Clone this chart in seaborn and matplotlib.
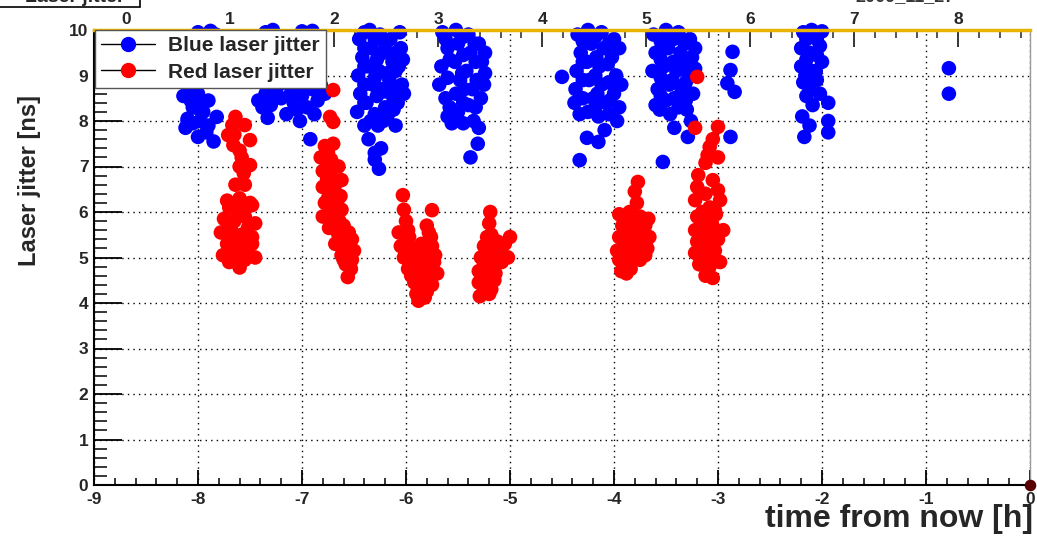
import matplotlib
matplotlib.use("Agg")
import matplotlib.pyplot as plt
import seaborn as sns
import pandas as pd
from matplotlib.ticker import MultipleLocator
from matplotlib.lines import Line2D
from matplotlib.patches import Rectangle

# ---- data (time from now [h], jitter [ns]) ----
blue_points = [
    # cluster near -8
    (-8.12, 7.85), (-8.10, 8.05), (-8.05, 8.30), (-8.14, 8.55), (-8.08, 8.75), (-8.00, 8.60),
    (-7.95, 8.20), (-7.92, 7.75), (-7.85, 7.55), (-8.00, 7.65), (-7.98, 8.00), (-7.90, 8.45),
    (-8.02, 8.85), (-8.00, 9.95), (-7.88, 9.98), (-7.83, 9.90), (-7.82, 8.09), (-7.98, 8.24),
    (-8.07, 8.45), (-8.10, 8.00), (-7.96, 8.40), (-8.05, 7.95), (-7.90, 7.90),
    # near -7.3
    (-7.42, 8.45), (-7.35, 8.60), (-7.28, 8.70), (-7.30, 8.35), (-7.33, 8.07), (-7.20, 8.50),
    (-7.22, 8.80), (-7.35, 9.95), (-7.28, 10.0), (-7.25, 8.60), (-7.38, 8.30),
    # near -7
    (-7.15, 8.15), (-7.08, 8.40), (-7.00, 8.55), (-6.95, 8.30), (-6.90, 8.70), (-6.85, 8.45),
    (-6.82, 8.80), (-7.02, 8.00), (-6.92, 7.60), (-6.78, 8.60), (-7.10, 8.70), (-7.00, 9.97),
    (-6.90, 9.98), (-7.12, 8.55), (-7.05, 8.25), (-6.88, 8.15), (-6.97, 8.75),
    # near -6.25
    (-6.45, 9.80), (-6.42, 9.40), (-6.46, 9.00), (-6.44, 8.60), (-6.47, 8.20), (-6.40, 7.90),
    (-6.35, 10.0), (-6.33, 9.60), (-6.36, 9.20), (-6.32, 8.80), (-6.38, 8.40), (-6.34, 8.00),
    (-6.36, 7.60), (-6.30, 7.30), (-6.25, 9.90), (-6.22, 9.50), (-6.26, 9.10), (-6.24, 8.70),
    (-6.20, 8.30), (-6.27, 7.90), (-6.24, 7.40), (-6.26, 6.95), (-6.30, 7.15), (-6.15, 9.80),
    (-6.13, 9.30), (-6.16, 8.90), (-6.12, 8.50), (-6.18, 8.10), (-6.06, 9.95), (-6.05, 9.60),
    (-6.07, 9.20), (-6.04, 8.80), (-6.08, 8.40), (-6.10, 7.90),
    (-6.40, 9.95), (-6.40, 9.60), (-6.40, 9.20), (-6.40, 8.80), (-6.40, 8.40), (-6.30, 9.80),
    (-6.28, 9.35), (-6.30, 8.95), (-6.28, 8.55), (-6.30, 8.15), (-6.20, 9.70), (-6.18, 9.05),
    (-6.20, 8.65), (-6.22, 8.00), (-6.10, 9.50), (-6.10, 9.10), (-6.10, 8.65), (-6.12, 8.25),
    (-6.03, 9.35), (-6.02, 8.60),
    # near -5.45
    (-5.65, 9.95), (-5.60, 9.60), (-5.66, 9.20), (-5.68, 8.80), (-5.62, 8.50), (-5.60, 8.10),
    (-5.52, 10.0), (-5.50, 9.70), (-5.53, 9.30), (-5.48, 8.90), (-5.52, 8.60), (-5.50, 8.20),
    (-5.45, 7.95), (-5.40, 9.90), (-5.38, 9.50), (-5.42, 9.10), (-5.36, 8.70), (-5.40, 8.35),
    (-5.35, 8.00), (-5.30, 9.70), (-5.27, 9.30), (-5.25, 8.80), (-5.28, 8.50), (-5.31, 7.50),
    (-5.38, 7.20), (-5.30, 7.85),
    (-5.62, 9.80), (-5.58, 9.35), (-5.60, 8.95), (-5.58, 8.30), (-5.45, 9.85), (-5.45, 9.45),
    (-5.46, 9.05), (-5.44, 8.70), (-5.45, 8.40), (-5.34, 9.70), (-5.33, 9.30), (-5.32, 8.90),
    (-5.33, 8.30), (-5.24, 9.50), (-5.24, 9.05), (-5.56, 7.95),
    # near -4.2
    (-4.50, 8.97), (-4.26, 7.63), (-4.09, 7.80), (-4.15, 7.54), (-4.33, 7.14),
    (-4.35, 9.90), (-4.32, 9.50), (-4.36, 9.10), (-4.37, 8.70), (-4.38, 8.40), (-4.33, 8.15),
    (-4.25, 10.0), (-4.22, 9.70), (-4.26, 9.30), (-4.24, 8.90), (-4.20, 8.50), (-4.25, 8.20),
    (-4.12, 9.95), (-4.10, 9.60), (-4.14, 9.20), (-4.12, 8.80), (-4.08, 8.40), (-4.15, 8.10),
    (-4.00, 9.80), (-4.02, 9.40), (-3.98, 9.00), (-4.00, 8.60), (-3.95, 8.30), (-3.97, 8.00),
    (-4.30, 9.75), (-4.30, 9.30), (-4.30, 8.90), (-4.30, 8.50), (-4.18, 9.85), (-4.17, 9.40),
    (-4.18, 9.00), (-4.16, 8.60), (-4.18, 8.30), (-4.05, 9.70), (-4.06, 9.25), (-4.05, 8.85),
    (-4.04, 8.45), (-4.05, 8.15), (-3.95, 9.60), (-3.93, 8.80),
    # near -3.45
    (-3.62, 9.90), (-3.60, 9.50), (-3.63, 9.10), (-3.58, 8.70), (-3.60, 8.35),
    (-3.50, 10.0), (-3.48, 9.60), (-3.52, 9.20), (-3.47, 8.80), (-3.50, 8.45), (-3.46, 8.15),
    (-3.38, 9.95), (-3.36, 9.50), (-3.40, 9.10), (-3.35, 8.70), (-3.38, 8.30), (-3.42, 7.85),
    (-3.27, 9.80), (-3.25, 9.40), (-3.28, 9.00), (-3.24, 8.60), (-3.30, 8.25), (-3.29, 7.65),
    (-3.53, 7.10),
    (-3.55, 9.75), (-3.55, 9.35), (-3.55, 8.95), (-3.55, 8.55), (-3.43, 9.80), (-3.43, 9.30),
    (-3.44, 8.90), (-3.42, 8.50), (-3.32, 9.70), (-3.32, 9.25), (-3.31, 8.85), (-3.31, 8.45),
    (-3.22, 9.60), (-3.22, 9.15), (-3.56, 8.25), (-3.26, 8.00),
    # near -2.85
    (-2.86, 9.52), (-2.88, 9.12), (-2.91, 8.83), (-2.84, 8.64), (-2.88, 7.65),
    # near -2.1
    (-2.18, 9.95), (-2.10, 10.0), (-2.00, 9.97), (-2.20, 9.60), (-2.12, 9.50), (-2.02, 9.65),
    (-2.20, 9.20), (-2.10, 9.10), (-2.00, 9.30), (-2.18, 8.85), (-2.05, 8.90), (-2.12, 8.70),
    (-2.09, 8.35), (-1.94, 8.40), (-2.19, 8.10), (-1.94, 8.00), (-2.17, 7.65), (-1.94, 7.75),
    (-2.12, 7.90), (-2.15, 9.80), (-2.05, 9.80), (-2.15, 9.35), (-2.05, 9.45), (-2.16, 9.00),
    (-2.06, 9.10), (-2.02, 8.60), (-2.15, 8.55),
    # near -0.8
    (-0.78, 9.16), (-0.78, 8.60),
]

red_points = [
    # near -7.6
    (-7.64, 8.09), (-7.67, 7.91), (-7.55, 7.91), (-7.71, 7.69), (-7.50, 7.58), (-7.66, 7.47),
    (-7.58, 7.20), (-7.60, 7.00), (-7.50, 7.03), (-7.64, 6.60), (-7.55, 6.60),
    (-7.72, 6.25), (-7.60, 6.30), (-7.50, 6.20), (-7.70, 6.10), (-7.58, 6.05), (-7.48, 6.15),
    (-7.75, 5.85), (-7.65, 5.80), (-7.55, 5.90), (-7.45, 5.75), (-7.78, 5.55), (-7.68, 5.60),
    (-7.58, 5.50), (-7.48, 5.45), (-7.72, 5.30), (-7.62, 5.25), (-7.52, 5.20), (-7.76, 5.05),
    (-7.65, 5.00), (-7.55, 5.08), (-7.45, 5.00), (-7.70, 4.90), (-7.60, 4.78),
    (-7.70, 5.70), (-7.62, 5.40), (-7.52, 5.65), (-7.66, 5.15), (-7.54, 5.35), (-7.62, 5.95),
    (-7.70, 5.45), (-7.60, 6.20), (-7.48, 5.30), (-7.55, 4.95), (-7.65, 7.70), (-7.60, 7.35),
    (-7.56, 6.85),
    # near -6.65
    (-6.70, 8.68), (-6.73, 8.09), (-6.70, 7.98),
    (-6.78, 7.45), (-6.70, 7.50), (-6.82, 7.20), (-6.72, 7.15), (-6.65, 7.00), (-6.80, 6.90),
    (-6.72, 6.80), (-6.62, 6.70), (-6.80, 6.55), (-6.72, 6.45), (-6.63, 6.35), (-6.78, 6.20),
    (-6.70, 6.10), (-6.62, 6.05), (-6.80, 5.90), (-6.68, 5.85), (-6.60, 5.70), (-6.74, 5.65),
    (-6.65, 5.50), (-6.55, 5.55), (-6.68, 5.30), (-6.58, 5.25), (-6.52, 5.40), (-6.62, 5.05),
    (-6.55, 5.00), (-6.50, 5.15), (-6.58, 4.85), (-6.53, 4.75), (-6.56, 4.57),
    (-6.75, 7.30), (-6.76, 7.00), (-6.68, 6.60), (-6.75, 6.30), (-6.66, 6.25), (-6.72, 5.95),
    (-6.64, 5.80), (-6.60, 5.40), (-6.56, 5.20), (-6.60, 4.95), (-6.52, 4.95), (-6.70, 5.70),
    (-6.76, 6.70),
    # near -5.9
    (-6.03, 6.37), (-6.02, 6.05), (-6.00, 5.80), (-6.07, 5.55), (-5.97, 5.45), (-5.75, 6.04),
    (-5.80, 5.70), (-5.76, 5.45), (-6.05, 5.25), (-5.95, 5.20), (-5.85, 5.30), (-5.75, 5.25),
    (-6.02, 5.00), (-5.92, 4.95), (-5.82, 5.00), (-5.73, 4.90), (-5.98, 4.75), (-5.88, 4.70),
    (-5.78, 4.60), (-5.70, 4.65), (-5.92, 4.45), (-5.82, 4.35), (-5.75, 4.40), (-5.90, 4.20),
    (-5.82, 4.12), (-5.88, 4.05),
    (-5.98, 5.60), (-6.00, 5.10), (-5.90, 5.10), (-5.80, 5.15), (-5.95, 4.85), (-5.85, 4.85),
    (-5.75, 4.75), (-5.85, 4.55), (-5.80, 4.25), (-5.95, 4.60), (-5.78, 5.55), (-5.72, 5.05),
    # near -5.15
    (-5.19, 6.00), (-5.20, 5.75), (-5.18, 5.50), (-5.00, 5.45), (-5.05, 5.30), (-5.25, 5.25),
    (-5.15, 5.20), (-5.08, 5.10), (-5.28, 5.00), (-5.20, 4.95), (-5.12, 4.90), (-5.02, 5.00),
    (-5.30, 4.70), (-5.22, 4.75), (-5.14, 4.65), (-5.30, 4.45), (-5.22, 4.40), (-5.15, 4.50),
    (-5.29, 4.15), (-5.20, 4.20),
    (-5.22, 5.10), (-5.12, 5.05), (-5.25, 4.85), (-5.16, 4.80), (-5.26, 4.55), (-5.18, 4.30),
    (-5.08, 4.90), (-5.12, 5.35), (-5.22, 5.45), (-5.25, 4.30),
    # near -3.8
    (-3.77, 6.66), (-3.80, 6.45), (-3.95, 5.95), (-3.85, 6.00), (-3.75, 5.90), (-3.67, 5.85),
    (-3.92, 5.70), (-3.82, 5.75), (-3.72, 5.60), (-3.95, 5.45), (-3.85, 5.40), (-3.75, 5.35),
    (-3.66, 5.45), (-3.97, 5.15), (-3.87, 5.20), (-3.77, 5.10), (-3.68, 5.20), (-3.95, 4.95),
    (-3.85, 4.90), (-3.75, 4.95), (-3.93, 4.70), (-3.88, 4.65),
    (-3.90, 5.85), (-3.80, 5.85), (-3.70, 5.70), (-3.88, 5.55), (-3.78, 5.50), (-3.90, 5.30),
    (-3.80, 5.30), (-3.70, 5.30), (-3.90, 5.05), (-3.80, 5.00), (-3.70, 5.05), (-3.84, 4.75),
    (-3.78, 6.20),
    # near -3.1
    (-3.20, 8.97), (-3.22, 7.85), (-3.00, 7.87), (-3.08, 7.43), (-3.00, 7.20), (-3.12, 7.08),
    (-3.19, 6.81), (-3.20, 6.55), (-3.00, 6.48), (-3.22, 6.26), (-2.98, 6.26), (-3.03, 6.04),
    (-3.20, 5.90), (-3.10, 5.85), (-3.02, 5.95), (-3.22, 5.60), (-3.12, 5.65), (-3.03, 5.55),
    (-2.95, 5.60), (-3.20, 5.35), (-3.10, 5.30), (-3.00, 5.40), (-3.22, 5.10), (-3.12, 5.05),
    (-3.03, 5.15), (-3.18, 4.85), (-3.08, 4.80), (-2.98, 4.90), (-3.12, 4.60), (-3.05, 4.55),
    (-3.15, 5.75), (-3.06, 5.75), (-3.15, 5.45), (-3.05, 5.45), (-3.16, 5.20), (-3.06, 5.20),
    (-3.14, 4.95), (-3.04, 5.00), (-3.10, 4.70), (-3.15, 6.00), (-3.08, 6.10), (-3.12, 6.40),
    (-3.05, 6.70), (-3.10, 7.25), (-3.05, 7.60),
]

now_point = [(0.0, 0.0)]

series_names = ["Blue laser jitter", "Red laser jitter"]
x_ticks = [-9, -8, -7, -6, -5, -4, -3, -2, -1, 0]
y_ticks = [0, 1, 2, 3, 4, 5, 6, 7, 8, 9, 10]
top_ticks = [0, 1, 2, 3, 4, 5, 6, 7, 8]
top_offset = 8.69  # hour of day at "now - 9 h" offset

# ---- build data frame ----
df = pd.DataFrame(
    [(t, j, series_names[0]) for t, j in blue_points]
    + [(t, j, series_names[1]) for t, j in red_points],
    columns=["time", "jitter", "series"],
)

sns.set_style("white")
plt.rcParams["font.family"] = ["Liberation Sans", "DejaVu Sans"]

fig = plt.figure(figsize=(10.37, 5.36), dpi=100)
ax = fig.add_axes([94 / 1037, 1 - 485 / 536, 936 / 1037, 455 / 536])

sns.scatterplot(data=df, x="time", y="jitter", hue="series",
                palette={series_names[0]: "#0000ff", series_names[1]: "#ff0000"},
                s=110, linewidth=0, edgecolor="none", legend=False, ax=ax,
                clip_on=False, zorder=3)
sns.scatterplot(x=[p[0] for p in now_point], y=[p[1] for p in now_point],
                color="#5a0000", s=70, linewidth=0, ax=ax, clip_on=False, zorder=4)

ax.set_xlim(-9, 0)
ax.set_ylim(0, 10)
ax.set_xticks(x_ticks)
ax.set_yticks(y_ticks)
ax.xaxis.set_minor_locator(MultipleLocator(0.2))
ax.yaxis.set_minor_locator(MultipleLocator(0.2))
ax.set_xticklabels([str(v) for v in x_ticks], fontsize=12.5, fontweight="bold")
ax.set_yticklabels([str(v) for v in y_ticks], fontsize=12.5, fontweight="bold")
ax.tick_params(axis="x", which="major", direction="in", length=11, width=1.3,
               color="black", pad=5, bottom=True, top=False)
ax.tick_params(axis="x", which="minor", direction="in", length=5, width=1.1,
               color="black", bottom=True, top=False)
ax.tick_params(axis="y", which="major", direction="in", length=20, width=1.3,
               color="black", pad=4, left=True, right=False)
ax.tick_params(axis="y", which="minor", direction="in", length=9, width=1.1,
               color="black", left=True, right=False)

ax.grid(True, which="major", color="black", linestyle=(0, (1, 3)), linewidth=1.0)
ax.set_axisbelow(True)

for side in ["left", "bottom"]:
    ax.spines[side].set_color("black")
    ax.spines[side].set_linewidth(1.5)
ax.spines["right"].set_color("#9a9a9a")
ax.spines["right"].set_linewidth(1.0)
ax.spines["top"].set_color("#e8b400")
ax.spines["top"].set_linewidth(2.5)
ax.spines["top"].set_zorder(5)

ax.set_xlabel("")
ax.set_ylabel("")
fig.text(30 / 1037, 1 - 180 / 536, "Laser jitter [ns]", rotation=90,
         fontsize=17, fontweight="bold", ha="center", va="center")
fig.text(1033 / 1037, 1 - 519 / 536, "time from now [h]", fontsize=23,
         fontweight="bold", ha="right", va="center")

# top axis: hour of day
sec = ax.secondary_xaxis("top", functions=(lambda x: x + top_offset, lambda x: x - top_offset))
sec.set_xticks(top_ticks)
sec.set_xticklabels([str(v) for v in top_ticks], fontsize=12.5, fontweight="bold")
sec.xaxis.set_minor_locator(MultipleLocator(0.2))
sec.tick_params(axis="x", which="major", direction="in", length=12, width=1.3, pad=2)
sec.tick_params(axis="x", which="minor", direction="in", length=6, width=1.1)
sec.spines["top"].set_visible(False)

# legend
handles = [
    Line2D([0], [0], color="black", lw=1, marker="o", markersize=10,
           markerfacecolor="#0000ff", markeredgecolor="#0000ff"),
    Line2D([0], [0], color="black", lw=1, marker="o", markersize=10,
           markerfacecolor="#ff0000", markeredgecolor="#ff0000"),
]
leg = ax.legend(handles, series_names, loc="upper left", bbox_to_anchor=(0.001, 1.0),
                borderaxespad=0, frameon=True, fancybox=False, framealpha=1,
                edgecolor="#555555", handlelength=2.6, handletextpad=0.6,
                borderpad=0.3, labelspacing=0.35, prop={"size": 15, "weight": "bold"})
leg.get_frame().set_linewidth(1.0)
leg.set_zorder(6)

# partially visible title box and date text at the top edge
fig.patches.append(Rectangle((-0.01, 1 - 7 / 536), 150 / 1037, 0.1, transform=fig.transFigure,
                             facecolor="white", edgecolor="black", linewidth=1.2, zorder=10))
fig.text(75 / 1037, 1 + 2 / 536, "Laser jitter", fontsize=14, fontweight="bold",
         ha="center", va="center", zorder=11)
fig.text(905 / 1037, 1 + 3 / 536, "2009_11_27", fontsize=13, fontweight="bold",
         ha="center", va="center", color="#333333")

fig.savefig("out.png", dpi=100)
